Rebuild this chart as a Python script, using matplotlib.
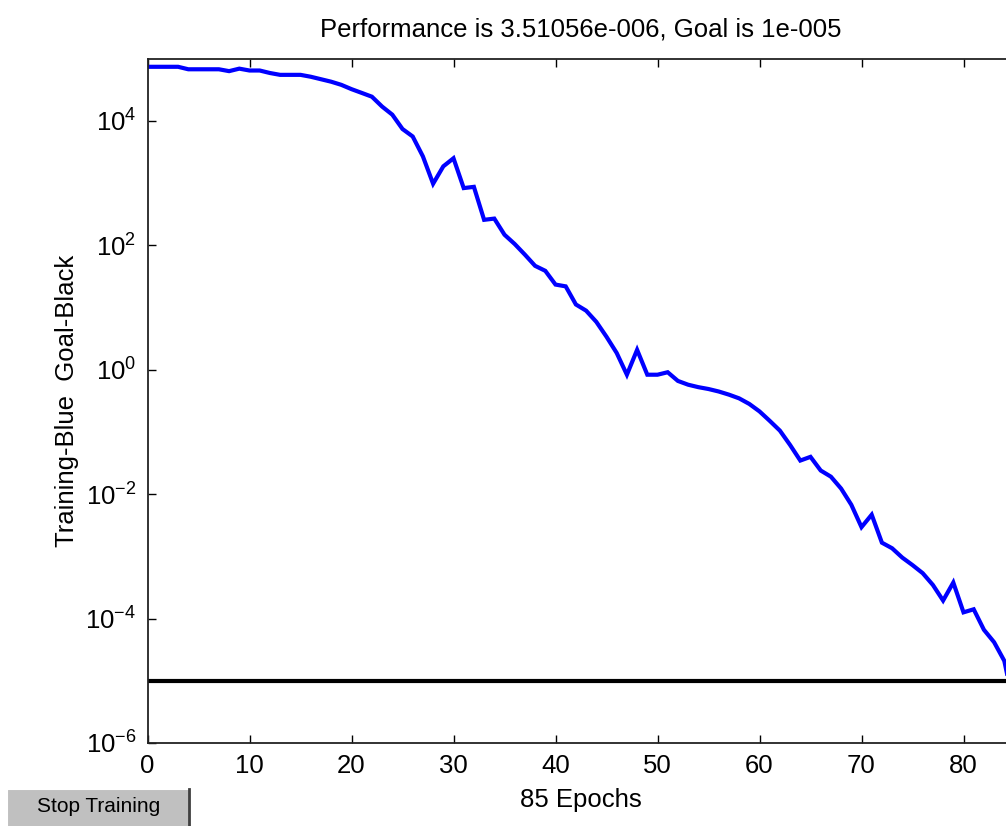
"""MATLAB-style training record: performance vs epochs on a log axis."""
import numpy as np
import matplotlib
matplotlib.use("Agg")
import matplotlib.pyplot as plt
from matplotlib.patches import Rectangle
from matplotlib.lines import Line2D

plt.rcParams["font.family"] = ["Liberation Sans", "DejaVu Sans"]
plt.rcParams["mathtext.fontset"] = "custom"
plt.rcParams["mathtext.rm"] = "Liberation Sans"
plt.rcParams["axes.unicode_minus"] = False

# training performance per epoch (0..85)
perf = [
    7.41e4, 7.41e4, 7.41e4, 7.41e4, 6.76e4, 6.76e4, 6.76e4, 6.76e4, 6.31e4, 6.92e4,
    6.46e4, 6.46e4, 5.89e4, 5.50e4, 5.50e4, 5.50e4, 5.13e4, 4.68e4, 4.27e4, 3.80e4,
    3.24e4, 2.82e4, 2.45e4, 1.70e4, 1.26e4, 7.41e3, 5.62e3, 2.69e3, 977, 1.86e3,
    2.51e3, 832, 871, 257, 269, 148, 105, 70.8, 46.8, 38.9,
    23.4, 21.9, 11.2, 8.91, 5.89, 3.39, 1.86, 0.832, 2.09, 0.832,
    0.832, 0.912, 0.661, 0.575, 0.525, 0.490, 0.447, 0.398, 0.347, 0.282,
    0.214, 0.151, 0.105, 0.0617, 0.0347, 0.0398, 0.0240, 0.0191, 0.0123, 6.76e-3,
    2.95e-3, 4.68e-3, 1.66e-3, 1.35e-3, 9.55e-4, 7.24e-4, 5.37e-4, 3.47e-4, 1.95e-4, 3.80e-4,
    1.26e-4, 1.41e-4, 6.61e-5, 4.17e-5, 2.09e-5, 3.51056e-6,
]
goal = 1e-5
n_epochs = 85
x_ticks = [0, 10, 20, 30, 40, 50, 60, 70, 80]
y_ticks = [1e-6, 1e-4, 1e-2, 1e0, 1e2, 1e4]

W, H = 1006, 826


def main():
    epochs = np.arange(len(perf))

    fig = plt.figure(figsize=(W / 100, H / 100), dpi=100)
    # axes runs a little past the right edge, like the cropped original
    ax = fig.add_axes([147.5 / W, 83 / H, 867 / W, 684.3 / H])

    ax.semilogy(epochs, perf, color="#0000ff", lw=3.0, solid_joinstyle="miter")
    ax.axhline(goal, color="black", lw=3.0)

    ax.set_xlim(0, n_epochs)
    ax.set_ylim(1e-6, 1e5)
    ax.set_xticks(x_ticks)
    ax.set_yticks(y_ticks)
    ax.yaxis.set_minor_locator(matplotlib.ticker.NullLocator())
    ax.tick_params(which="both", direction="in", top=True, right=True,
                   length=6, width=1, labelsize=18.5, pad=8)

    for s in ax.spines.values():
        s.set_linewidth(1.3)
        s.set_color("#222222")

    ax.set_title("Performance is 3.51056e-006, Goal is 1e-005", fontsize=18.5, pad=16)
    ax.set_xlabel("85 Epochs", fontsize=18.5, labelpad=7)
    ax.set_ylabel("Training-Blue  Goal-Black", fontsize=18.5, labelpad=5)

    # "Stop Training" button at the bottom-left
    bx0, bx1, by0, by1 = 7, 190, 789, 830
    fig.patches.append(Rectangle((bx0 / W, 1 - by1 / H), (bx1 - bx0) / W, (by1 - by0) / H,
                                 transform=fig.transFigure, facecolor="#c0c0c0",
                                 edgecolor="none", zorder=5))
    fig.lines.append(Line2D([bx0 / W, bx0 / W, bx1 / W], [0, 1 - by0 / H, 1 - by0 / H],
                            transform=fig.transFigure, color="white", lw=1.5, zorder=6))
    fig.lines.append(Line2D([(bx1 - 1) / W, (bx1 - 1) / W], [0, 1 - by0 / H],
                            transform=fig.transFigure, color="#404040", lw=2, zorder=6))
    fig.text((bx0 + bx1) / 2 / W, 1 - 807 / H, "Stop Training", fontsize=15,
             ha="center", va="center", zorder=7)

    fig.savefig("out.png", dpi=100)


if __name__ == "__main__":
    main()
